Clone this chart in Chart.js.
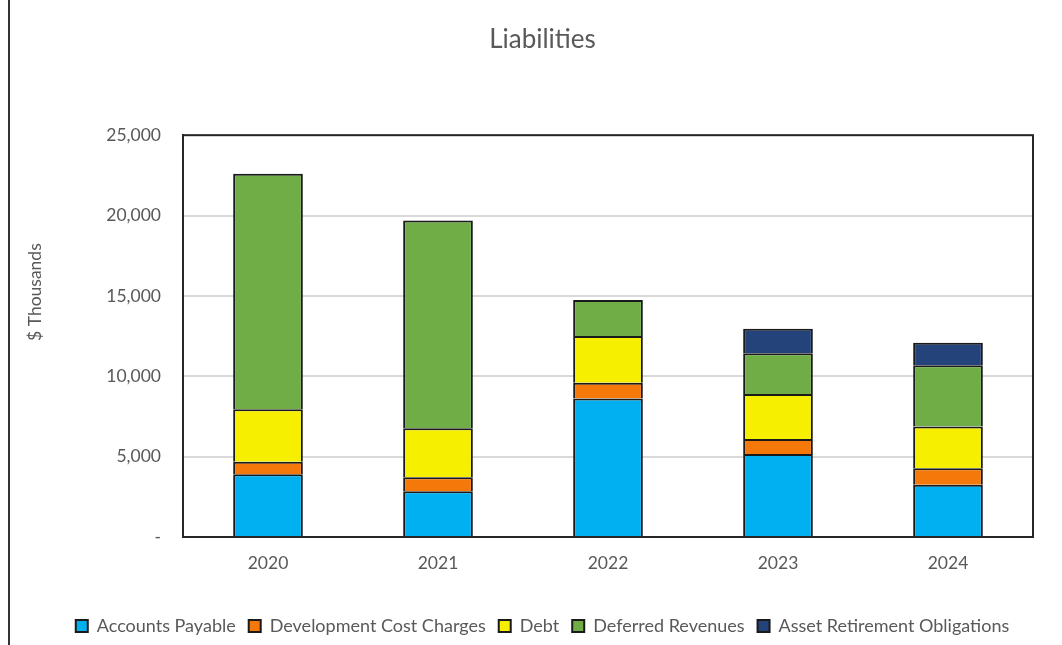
<!DOCTYPE html>
<html>
<head>
<meta charset="utf-8">
<script src="https://cdn.jsdelivr.net/npm/chart.js@4"></script>
<style>
  html, body { margin: 0; padding: 0; background: #fff; }
  #wrap { position: relative; width: 1062px; height: 645px; }
  #lijn { position: absolute; left: 8px; top: 0; width: 2px; height: 645px; background: #333; }
</style>
</head>
<body>
<div id="wrap">
  <div id="lijn"></div>
  <canvas id="liabilitiesChart" width="1062" height="645"></canvas>
</div>
<script>
// jaren en waarden per categorie ($ duizenden)
var jaren = ['2020', '2021', '2022', '2023', '2024'];
var accountsPayable = [3900, 2840, 8610, 5170, 3250];
var developmentCostCharges = [780, 870, 990, 920, 1020];
var debt = [3270, 3060, 2900, 2810, 2610];
var deferredRevenues = [14650, 12920, 2240, 2530, 3800];
var assetRetirement = [0, 0, 0, 1530, 1410];

var tekstKleur = '#595959';
var lettertype = 'Lato, "Open Sans", sans-serif';

// rand om het plotgebied tekenen (zoals in Excel) + as-titel links
var kaderPlugin = {
  id: 'kader',
  afterDraw: function (chart) {
    var ca = chart.chartArea;
    var ctx = chart.ctx;
    ctx.save();
    ctx.strokeStyle = '#262626';
    ctx.lineWidth = 2;
    ctx.strokeRect(ca.left, ca.top, ca.right - ca.left, ca.bottom - ca.top);

    // "$ Thousands" staat in Excel iets boven het midden
    ctx.translate(35, (ca.top + ca.bottom) / 2 - 44);
    ctx.rotate(-Math.PI / 2);
    ctx.fillStyle = tekstKleur;
    ctx.font = '17.5px ' + lettertype;
    ctx.textAlign = 'center';
    ctx.textBaseline = 'middle';
    ctx.fillText('$ Thousands', 0, 0);
    ctx.restore();
  }
};

function maakDataset(label, data, kleur) {
  return {
    label: label,
    data: data,
    backgroundColor: kleur,
    borderColor: '#1a1a1a',
    borderWidth: 2,
    barPercentage: 0.82,
    categoryPercentage: 0.5
  };
}

var ctx = document.getElementById('liabilitiesChart').getContext('2d');
var liabilitiesChart = new Chart(ctx, {
  type: 'bar',
  data: {
    labels: jaren,
    datasets: [
      maakDataset('Accounts Payable', accountsPayable, '#00B0F0'),
      maakDataset('Development Cost Charges', developmentCostCharges, '#F4780A'),
      maakDataset('Debt', debt, '#F6F000'),
      maakDataset('Deferred Revenues', deferredRevenues, '#70AD47'),
      maakDataset('Asset Retirement Obligations', assetRetirement, '#24437A')
    ]
  },
  options: {
    responsive: false,
    animation: false,
    layout: { padding: { top: 24, left: 52, right: 29, bottom: 0 } },
    plugins: {
      title: {
        display: true,
        text: 'Liabilities',
        color: tekstKleur,
        font: { family: lettertype, size: 26, weight: 'normal' },
        padding: { top: 0, bottom: 80 }
      },
      legend: {
        position: 'bottom',
        labels: {
          color: tekstKleur,
          font: { family: lettertype, size: 18 },
          boxWidth: 12,
          boxHeight: 12,
          padding: 13,
          useBorderRadius: false
        }
      },
      tooltip: { enabled: false }
    },
    scales: {
      x: {
        stacked: true,
        afterFit: function (s) { s.height = 67; },
        grid: { display: false, drawTicks: false },
        border: { color: '#262626', width: 2 },
        ticks: { color: tekstKleur, font: { family: lettertype, size: 17.5 }, padding: 16 }
      },
      y: {
        stacked: true,
        min: 0,
        max: 25000,
        afterFit: function (s) { s.width = 131; },
        grid: { color: '#D9D9D9', lineWidth: 2, drawTicks: false },
        border: { color: '#262626', width: 2 },
        ticks: {
          stepSize: 5000,
          color: tekstKleur,
          font: { family: lettertype, size: 17.5 },
          padding: 22,
          callback: function (v) { return v === 0 ? '-' : v.toLocaleString('en-US'); }
        }
      }
    }
  },
  plugins: [kaderPlugin]
});
</script>
</body>
</html>
